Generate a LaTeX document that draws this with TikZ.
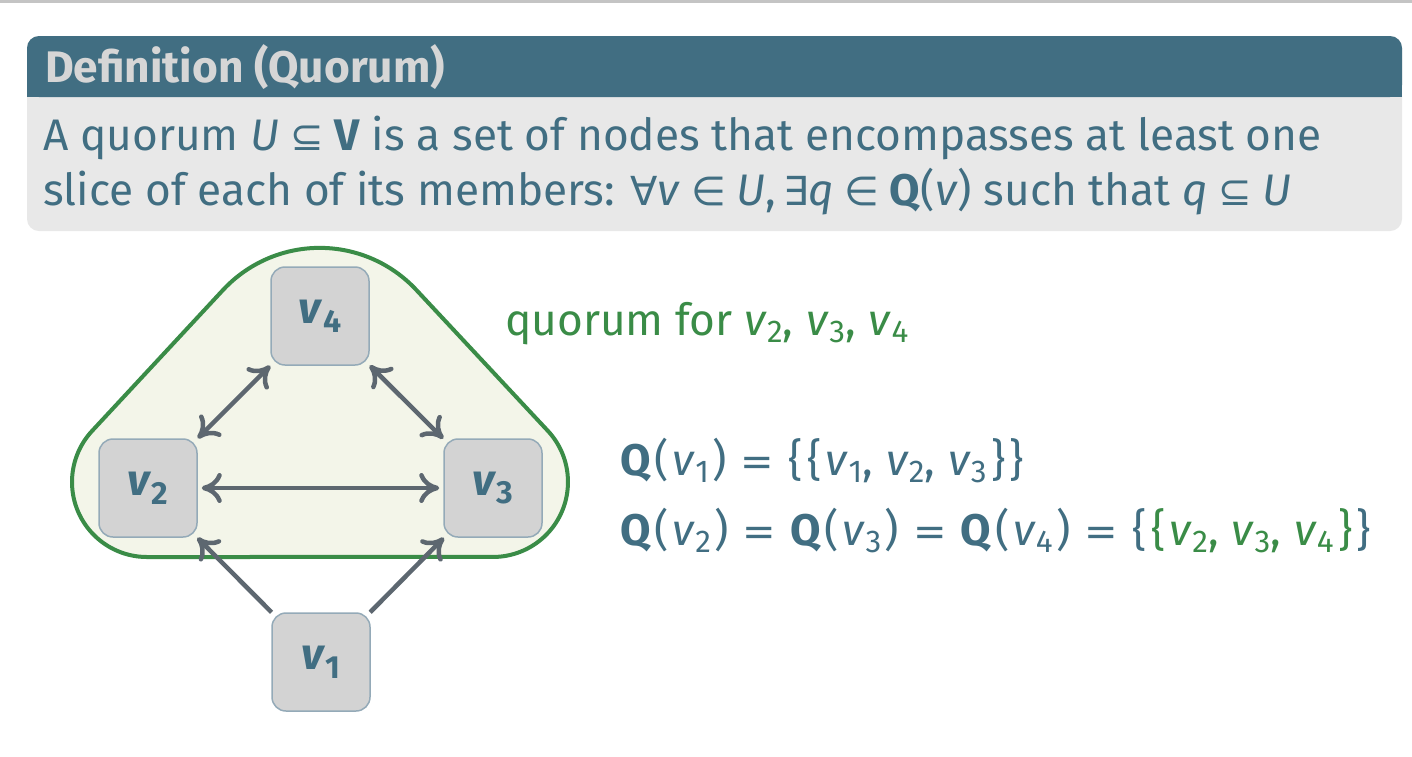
\documentclass[tikz,border=0pt]{standalone}
\usepackage{fontspec}
\setmainfont{Fira Sans}
\newfontfamily\symf{DejaVu Sans}
\usetikzlibrary{arrows.meta}
\definecolor{hdr}{HTML}{416E82}
\definecolor{bodybg}{HTML}{E8E8E8}
\definecolor{ttl}{HTML}{D6D6D6}
\definecolor{txt}{HTML}{416E82}
\definecolor{grn}{HTML}{3A8C47}
\definecolor{blobf}{HTML}{F3F5E9}
\definecolor{arrc}{HTML}{5D6770}
\definecolor{nodef}{HTML}{D3D3D3}
\definecolor{noded}{HTML}{94AAB8}
\definecolor{topline}{HTML}{C4C4C4}
\newcommand\nv[1]{\textbf{\textit{v}}\raisebox{-0.2em}{\fontsize{32}{32}\selectfont\bfseries #1}}
\newcommand\mv[1]{\textit{v}\raisebox{-0.18em}{\fontsize{31.5}{31.5}\selectfont #1}}
\newcommand\rel[1]{\hspace{0.24em}{\symf\fontsize{40}{40}\selectfont #1}\hspace{0.24em}}
\newcommand\sym[1]{{\symf\fontsize{40}{40}\selectfont #1}}
\newcommand\eqs{\hspace{0.32em}\sym{=}\hspace{0.32em}}
\newcommand\lb{\{\hspace{0.1em}}
\newcommand\rb{\hspace{0.1em}\}}
\newcommand\lp{\hspace{0.08em}(\hspace{0.08em}}
\newcommand\rp{\hspace{0.08em})}
\newcommand\cm{,\hspace{0.3em}}
\tikzset{
  vbox/.style={rectangle, rounded corners=14pt, minimum width=98pt, minimum height=98pt,
    fill=nodef, draw=noded, line width=1.5pt, text=txt, inner sep=0pt},
  biarr/.style={draw=arrc, line width=4.5pt,
    arrows={Computer Modern Rightarrow[length=20pt,width=30pt,round]-Computer Modern Rightarrow[length=20pt,width=30pt,round]}},
  onearr/.style={draw=arrc, line width=4.5pt,
    arrows={-Computer Modern Rightarrow[length=20pt,width=30pt,round]}},
  txtnode/.style={anchor=base west, inner sep=0pt, text=txt}
}
\begin{document}
\begin{tikzpicture}[x=1pt,y=-1pt,font=\fontsize{44.2}{52}\selectfont]
\useasboundingbox (0,0) rectangle (1412,756);
\fill[white] (0,0) rectangle (1412,756);
\fill[topline] (0,0) rectangle (1412,2.5);
% definition box
\fill[bodybg, rounded corners=12pt] (27,36) rectangle (1402,231);
\fill[hdr, rounded corners=12pt] (27,36) rectangle (1402,97);
\fill[hdr] (27,70) rectangle (1402,97);
\node[txtnode, text=ttl] (title) at (45,82) {\textbf{Definition (Quorum)}};
\node[txtnode] (line1) at (43,150) {A quorum \textit{U}\rel{⊆}\textbf{V} is a set of nodes that encompasses at least one};
\node[txtnode] (line2) at (43,205) {slice of each of its members: \sym{∀}\textit{v}\rel{∈}\textit{U},\hspace{0.15em}\sym{∃}\textit{q}\rel{∈}\textbf{Q}(\textit{v}) such that \textit{q}\rel{⊆}\textit{U}};
% quorum blob
\draw[grn, line width=4pt, fill=blobf]
  (147,557) arc[start angle=90, end angle=222.8, radius=75]
  -- (223,290) arc[start angle=222.9, end angle=317.1, radius=132]
  -- (548,431) arc[start angle=317.2, end angle=450, radius=75]
  -- cycle;
% nodes
\node[vbox] (v4) at (320,316) {\nv4};
\node[vbox] (v2) at (148,488) {\nv2};
\node[vbox] (v3) at (493,488) {\nv3};
\node[vbox] (v1) at (321,662) {\nv1};
% arrows
\draw[biarr] (v2) -- (v4);
\draw[biarr] (v4) -- (v3);
\draw[biarr, shorten <=4pt, shorten >=4pt] (v2) -- (v3);
\draw[onearr] (v1) -- (v2);
\draw[onearr] (v1) -- (v3);
% labels
\node[txtnode, text=grn] (qlabel) at (505,335) {quorum for \mv2\cm\mv3\cm\mv4};
\node[txtnode] (eq1) at (620,475) {\textbf{Q}\lp\mv1\rp\eqs\lb\lb\mv1\cm\mv2\cm\mv3\rb\rb};
\node[txtnode] (eq2) at (620,545) {\textbf{Q}\lp\mv2\rp\eqs\textbf{Q}\lp\mv3\rp\eqs\textbf{Q}\lp\mv4\rp\eqs\lb\textcolor{grn}{\lb\mv2\cm\mv3\cm\mv4\rb}\rb};
\end{tikzpicture}
\end{document}
